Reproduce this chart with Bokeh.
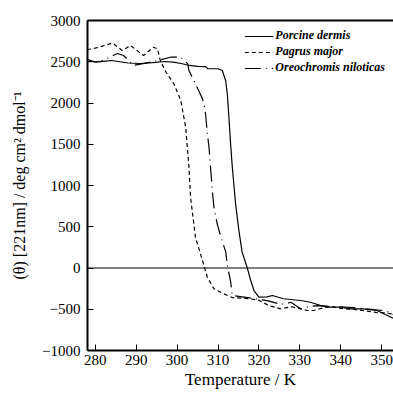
from bokeh.plotting import figure
from bokeh.models import Range1d, FixedTicker, Span, LinearAxis, Legend, LegendItem
from bokeh.embed import file_html
from bokeh.resources import INLINE

# ---- data ----
porcine_t = [278, 280, 282, 284, 286, 288, 291, 294, 297, 299, 301, 303, 305, 307, 307.5, 310,
             311.05, 311.86, 312.27, 312.67, 313.08, 313.5, 314.3, 315.1, 315.9, 317.2, 318.0,
             318.8, 320.0, 322, 323.3, 326, 330.2, 332.6, 335.1, 337.5, 340, 342.4, 345.6,
             348.9, 350.5, 353]
porcine_v = [2530, 2495, 2505, 2515, 2500, 2485, 2479, 2490, 2503, 2495, 2479, 2455, 2445, 2440,
             2415, 2415, 2394, 2273, 2112, 1828, 1505, 1222, 778, 455, 192, -6, -152, -273, -354,
             -350, -333, -373, -394, -415, -455, -475, -475, -495, -495, -515, -555, -612]

pagrus_t = [278, 280.7, 284.2, 286.6, 288.6, 291.8, 294.2, 295.2, 295.9, 297.3, 299.2, 300.4,
            300.9, 302.1, 302.9, 303.3, 304.5, 306.2, 307.4, 309.0, 311.4, 313.5, 316, 318, 320,
            322.4, 325.3, 328, 331.8, 333.4, 336, 338, 340, 343, 346, 349, 351, 353]
pagrus_v = [2645, 2673, 2727, 2636, 2697, 2576, 2676, 2657, 2515, 2373, 2233, 2091, 2030, 1707,
            1222, 850, 373, 91, -112, -252, -313, -358, -365, -375, -390, -455, -495, -470, -515,
            -515, -480, -470, -490, -500, -520, -540, -545, -560]

oreo_t = [278, 281.3, 285.4, 286.9, 289.3, 292, 295.2, 298.4, 300.9, 301.3, 302.6, 302.9, 304.5,
          306.2, 306.6, 307.0, 307.4, 307.8, 308.2, 308.6, 309.0, 309.8, 310.6, 311.9, 312.3,
          313.1, 313.5, 317.2, 320, 322, 325.3, 326.9, 327.8, 330.2, 332, 334.3, 337, 340, 343,
          346, 348, 350.2, 351.5, 353]
oreo_v = [2500, 2503, 2600, 2576, 2455, 2480, 2515, 2555, 2555, 2536, 2475, 2394, 2233, 2051, 1990,
          1848, 1627, 1464, 1200, 950, 737, 536, 394, 192, 30, -172, -333, -358, -380, -395, -440,
          -430, -415, -495, -470, -455, -465, -470, -480, -495, -505, -515, -530, -570]

series_names = ["Porcine dermis", "Pagrus major", "Oreochromis niloticas"]
x_ticks = [280, 290, 300, 310, 320, 330, 340, 350]
y_ticks = [-1000, -500, 0, 500, 1000, 1500, 2000, 2500, 3000]

FONT = "Liberation Serif"

p = figure(width=393, height=394, output_backend="svg", toolbar_location=None,
           x_range=Range1d(278.1, 352.9), y_range=Range1d(-1000, 3000),
           min_border_left=87, min_border_right=0, min_border_top=20, min_border_bottom=44)
p.outline_line_color = None
p.xgrid.visible = False
p.ygrid.visible = False
p.background_fill_color = "white"
p.border_fill_color = "white"

xa = p.xaxis[0]
ya = p.yaxis[0]
for ax, ticks in ((xa, x_ticks), (ya, y_ticks)):
    ax.ticker = FixedTicker(ticks=ticks)
    ax.axis_line_width = 2
    ax.axis_line_color = "black"
    ax.major_tick_in = 6
    ax.major_tick_out = 0
    ax.major_tick_line_width = 1
    ax.minor_tick_line_color = None
    ax.major_label_text_font = FONT
    ax.major_label_text_font_size = "15px"
    ax.major_label_text_font_style = "normal"
    ax.major_label_text_color = "black"
    ax.axis_label_text_font = FONT
    ax.axis_label_text_font_style = "normal"
    ax.axis_label_text_color = "black"
xa.major_label_standoff = 4
ya.major_label_standoff = 7

ya.axis_label = "(\u03b8) [221nm] / deg cm\u00b2 dmol\u207b\u00b9"
ya.axis_label_text_font_size = "16px"
ya.axis_label_standoff = 11

xa.axis_label = "Temperature / K"
xa.axis_label_text_font_size = "17px"
xa.axis_label_standoff = 2

top = LinearAxis(ticker=FixedTicker(ticks=[]), axis_line_width=2, axis_line_color="black",
                 major_tick_line_color=None, minor_tick_line_color=None,
                 major_label_text_font_size="0px")
p.add_layout(top, "above")

p.add_layout(Span(location=0, dimension="width", line_color="black", line_width=1))

r1 = p.line(porcine_t, porcine_v, line_color="black", line_width=1.2)
r2 = p.line(pagrus_t, pagrus_v, line_color="black", line_width=1.2, line_dash="4 3")
r3 = p.line(oreo_t, oreo_v, line_color="black", line_width=1.2, line_dash="16 5 1 5")

legend = Legend(items=[LegendItem(label=series_names[0], renderers=[r1]),
                       LegendItem(label=series_names[1], renderers=[r2]),
                       LegendItem(label=series_names[2], renderers=[r3])],
                location="top_right", margin=8, padding=0, spacing=1,
                glyph_width=29, glyph_height=14, label_height=14, label_standoff=2,
                label_text_font=FONT, label_text_font_size="12px",
                label_text_font_style="bold italic", label_text_color="black",
                border_line_color=None, background_fill_color=None)
p.add_layout(legend)

open("out.html", "w").write(file_html(p, INLINE))
